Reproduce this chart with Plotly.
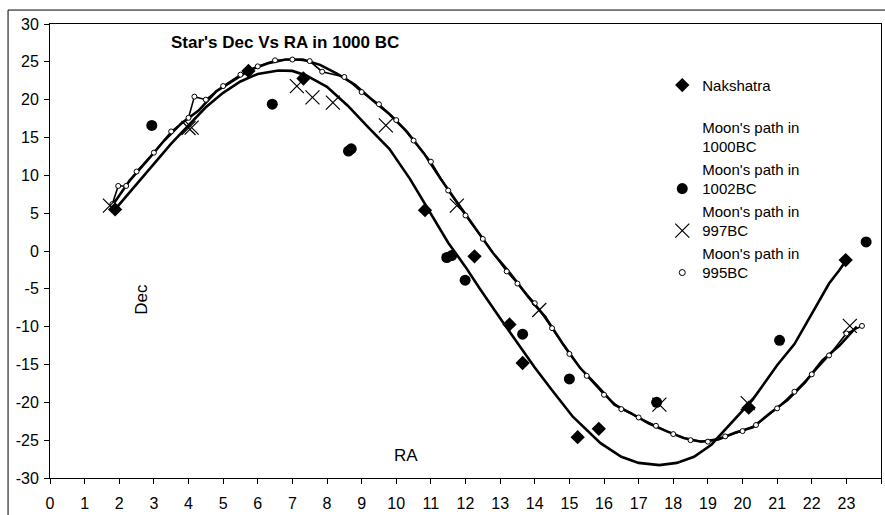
import plotly.graph_objects as go

# ---------------- data ----------------
nak_ra  = [1.88, 5.73, 7.32, 10.83, 12.26, 13.27, 13.65, 15.24, 15.85, 20.18, 22.98]
nak_dec = [5.5, 23.8, 22.8, 5.4, -0.7, -9.7, -14.8, -24.6, -23.5, -20.7, -1.2]

# smooth lower curve (Moon's path in 1000BC)
m1000_ra  = [1.88, 2.5, 3.0, 3.5, 4.0, 4.5, 5.0, 5.5, 6.0, 6.6, 7.0, 7.4, 8.0, 8.6, 9.2, 9.8,
             10.4, 10.9, 11.5, 12.0, 12.4, 13.0, 13.6, 14.0, 14.5, 15.1, 15.9, 16.5, 17.0,
             17.6, 18.1, 18.6, 19.1, 19.7, 20.3, 21.0, 21.5, 22.0, 22.5, 22.8, 23.0]
m1000_dec = [5.5, 8.8, 11.6, 14.2, 16.6, 19.0, 20.9, 22.4, 23.4, 23.85, 23.8, 23.2, 21.7, 19.2,
             16.3, 13.5, 9.5, 5.6, 1.1, -2.1, -4.9, -8.9, -12.8, -15.4, -18.4, -21.9, -25.4,
             -27.2, -28.0, -28.3, -28.0, -27.2, -25.6, -22.6, -19.6, -15.1, -12.3, -8.3, -4.3,
             -2.5, -1.2]

m1002_ra  = [2.94, 6.42, 8.62, 8.70, 11.46, 11.60, 11.99, 13.65, 15.0, 17.52, 21.07, 23.57]
m1002_dec = [16.6, 19.4, 13.2, 13.5, -0.86, -0.6, -3.85, -11.0, -16.9, -20.0, -11.8, 1.2]

m997_ra  = [1.73, 4.0, 4.09, 7.13, 7.58, 8.17, 9.7, 11.75, 14.13, 17.6, 20.15, 23.1]
m997_dec = [6.0, 16.25, 16.3, 21.8, 20.3, 19.6, 16.6, 6.0, -7.8, -20.3, -20.1, -9.9]

# upper wavy curve (Moon's path in 995BC)
m995_ra  = [1.8, 1.97, 2.2, 2.5, 3.0, 3.5, 4.0, 4.17, 4.5, 5.0, 5.5, 6.0, 6.5, 7.0, 7.5, 7.86,
            8.5, 9.0, 9.5, 10.0, 10.5, 11.0, 11.5, 12.0, 12.5, 13.19, 13.5, 14.0, 14.5, 15.0,
            15.5, 16.0, 16.5, 17.0, 17.5, 18.0, 18.5, 19.0, 19.5, 20.0, 20.39, 21.0, 21.5,
            22.0, 22.5, 23.0, 23.45]
m995_dec = [6.2, 8.6, 8.6, 10.5, 13.0, 15.8, 17.6, 20.4, 20.0, 21.8, 23.3, 24.4, 25.2, 25.3,
            25.1, 23.7, 23.0, 21.0, 19.4, 17.3, 14.6, 11.8, 8.0, 4.7, 1.6, -2.7, -4.3, -6.9,
            -10.2, -13.6, -16.5, -19.0, -20.9, -22.0, -23.1, -24.2, -25.0, -25.2, -24.5,
            -23.8, -23.0, -20.8, -18.6, -16.3, -13.8, -10.9, -9.9]

# companion wavy line drawn along the 995BC curve
wave_ra  = [1.8, 2.3, 2.8, 3.3, 3.8, 4.3, 4.8, 5.3, 5.8, 6.3, 6.8, 7.3, 7.8, 8.3, 8.8, 9.3,
            9.8, 10.3, 10.8, 11.3, 11.8, 12.3, 12.8, 13.3, 13.8, 14.3, 14.8, 15.3, 15.8, 16.3,
            16.8, 17.3, 17.8, 18.3, 18.8, 19.3, 19.8, 20.3, 20.8, 21.3, 21.8, 22.3, 22.8, 23.3]
wave_dec = [6.0, 9.3, 11.9, 14.6, 16.9, 18.6, 21.1, 22.6, 24.0, 24.8, 25.3, 25.3, 24.6, 23.4,
            22.0, 20.0, 18.1, 15.8, 12.9, 9.4, 6.1, 2.9, -0.3, -3.0, -6.0, -8.7, -12.2, -15.4,
            -17.8, -20.3, -21.5, -22.8, -23.8, -24.7, -25.2, -24.9, -24.0, -23.3, -21.4,
            -19.7, -17.4, -14.5, -12.5, -10.0]

x_ticks = list(range(0, 25))
y_ticks = list(range(-30, 31, 5))

names = ["Nakshatra", "<br>Moon's path in<br>1000BC", "Moon's path in<br>1002BC",
         "Moon's path in<br>997BC", "Moon's path in<br>995BC"]

FONT = "Liberation Sans, Arial, sans-serif"

fig = go.Figure()

# lines
fig.add_trace(go.Scatter(x=m1000_ra, y=m1000_dec, mode="lines",
                         line=dict(color="black", width=2.6), showlegend=False))
fig.add_trace(go.Scatter(x=wave_ra, y=wave_dec, mode="lines",
                         line=dict(color="black", width=2.6), showlegend=False))
fig.add_trace(go.Scatter(x=m995_ra, y=m995_dec, mode="lines+markers",
                         line=dict(color="black", width=1.6),
                         marker=dict(symbol="circle", size=5, color="white",
                                     line=dict(color="black", width=1)),
                         showlegend=False))
# scatter series
fig.add_trace(go.Scatter(x=nak_ra, y=nak_dec, mode="markers", name=names[0],
                         marker=dict(symbol="diamond", size=11, color="black")))
fig.add_trace(go.Scatter(x=[None], y=[None], mode="markers", name=names[1],
                         marker=dict(size=8, color="rgba(0,0,0,0)")))
fig.add_trace(go.Scatter(x=m1002_ra, y=m1002_dec, mode="markers", name=names[2],
                         marker=dict(symbol="circle", size=11, color="black")))
fig.add_trace(go.Scatter(x=m997_ra, y=m997_dec, mode="markers", name=names[3],
                         marker=dict(symbol="x-thin", size=14, color="black",
                                     line=dict(color="black", width=1.2))))
fig.add_trace(go.Scatter(x=[None], y=[None], mode="markers", name=names[4],
                         marker=dict(symbol="circle", size=6, color="white",
                                     line=dict(color="black", width=1))))

fig.update_layout(
    width=885, height=515,
    margin=dict(l=50, r=3, t=24, b=35),
    paper_bgcolor="white", plot_bgcolor="white",
    font=dict(family=FONT, size=16, color="black"),
    showlegend=True,
    legend=dict(x=(663 - 50) / 832, y=(480 - 69) / 456, xanchor="left", yanchor="top",
                bgcolor="rgba(0,0,0,0)", valign="bottom",
                font=dict(family=FONT, size=15, color="black"), tracegroupgap=0),
    xaxis=dict(range=[0, 24], tickvals=x_ticks, ticktext=[str(v) for v in x_ticks],
               showgrid=False, zeroline=False, showline=True, linecolor="black",
               linewidth=1, mirror=True, ticks="outside", ticklen=5, tickcolor="black",
               ticklabelstandoff=6, tickfont=dict(family=FONT, size=16)),
    yaxis=dict(range=[-30, 30], tickvals=y_ticks, ticktext=[str(v) for v in y_ticks],
               showgrid=False, zeroline=False, showline=True, linecolor="black",
               linewidth=1, mirror=True, ticks="outside", ticklen=5, tickcolor="black",
               ticklabelstandoff=2, tickfont=dict(family=FONT, size=16)),
    annotations=[
        dict(text="<b>Star's Dec Vs RA in 1000 BC</b>", xref="paper", yref="paper",
             x=(285 - 50) / 832, y=(480 - 43) / 456, xanchor="center", yanchor="middle",
             showarrow=False, font=dict(family=FONT, size=17)),
        dict(text="Dec", xref="paper", yref="paper", x=(142 - 50) / 832,
             y=(480 - 300) / 456, xanchor="center", yanchor="middle",
             showarrow=False, textangle=-90, font=dict(family=FONT, size=17)),
        dict(text="RA", xref="paper", yref="paper", x=(406 - 50) / 832,
             y=(480 - 457) / 456, xanchor="center", yanchor="middle",
             showarrow=False, font=dict(family=FONT, size=17)),
    ],
    shapes=[
        dict(type="rect", xref="paper", yref="paper",
             x0=(8 - 50) / 832, x1=1.2, y0=-0.3, y1=(480 - 10) / 456,
             line=dict(color="black", width=1), fillcolor="rgba(0,0,0,0)", layer="below"),
    ],
)

fig.write_html("out.html")
